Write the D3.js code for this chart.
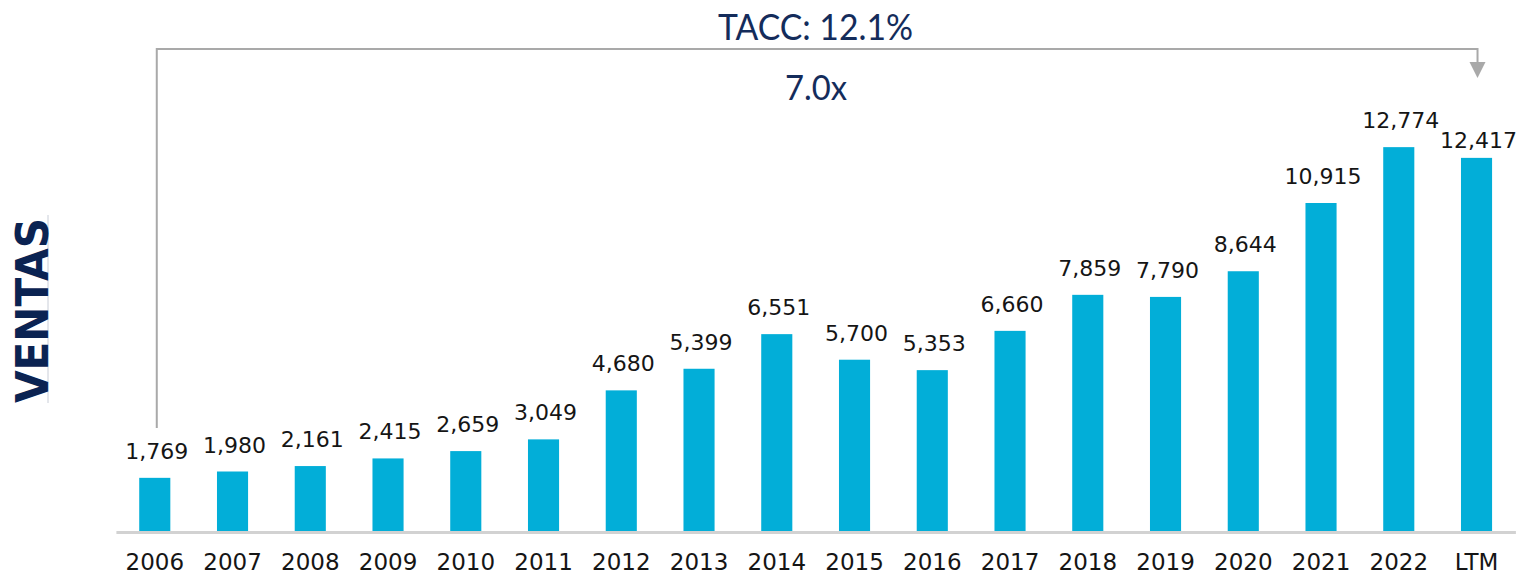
<!DOCTYPE html>
<html>
<head>
<meta charset="utf-8">
<script src="https://cdn.jsdelivr.net/npm/d3@7"></script>
<style>
  html, body { margin: 0; padding: 0; background: #ffffff; }
  svg { display: block; }
</style>
</head>
<body>
<svg id="chart" width="1522" height="575"></svg>
<script>
// ---- data ----
const categories = ["2006","2007","2008","2009","2010","2011","2012","2013","2014","2015","2016","2017","2018","2019","2020","2021","2022","LTM"];
const ventas = [1769,1980,2161,2415,2659,3049,4680,5399,6551,5700,5353,6660,7859,7790,8644,10915,12774,12417];
const growthLabel = "TACC: 12.1%";
const multipleLabel = "7.0x";
const axisTitle = "VENTAS";

// ---- layout ----
const W = 1522, H = 575;
const baseY = 531;
const svg = d3.select("#chart");

const x = d3.scaleBand()
  .domain(categories)
  .range([115.9, 1515.4])
  .paddingInner(0.6)
  .paddingOuter(0.3);

const y = d3.scaleLinear()
  .domain([0, 14000])
  .range([baseY, baseY - 14000 * 0.03005]);

const fmt = d3.format(",");
const barColor = "#02aed8";
const navy = "#142c5b";
const numFont = "'DejaVu Sans', sans-serif";

// bars
svg.append("g").selectAll("rect")
  .data(ventas)
  .join("rect")
  .attr("x", (d, i) => x(categories[i]))
  .attr("width", x.bandwidth())
  .attr("y", d => y(d))
  .attr("height", d => y(0) - y(d))
  .attr("fill", barColor);

// value labels
svg.append("g").selectAll("text")
  .data(ventas)
  .join("text")
  .attr("x", (d, i) => x(categories[i]) + x.bandwidth() / 2 + 2)
  .attr("y", (d, i) => y(d) - (i === ventas.length - 1 ? 10 : 19))
  .attr("text-anchor", "middle")
  .attr("font-family", numFont)
  .attr("font-size", 22)
  .attr("fill", "#151515")
  .text(d => fmt(d));

// x axis
const xAxis = svg.append("g")
  .attr("transform", `translate(0,${baseY + 1})`)
  .call(d3.axisBottom(x).tickSize(0).tickSizeOuter(0).tickPadding(22));
xAxis.select(".domain").attr("stroke", "#d2d2d2").attr("stroke-width", 3);
xAxis.selectAll("text")
  .attr("font-family", numFont)
  .attr("font-size", 23)
  .attr("fill", "#151515");

// growth bracket arrow
const xFirst = x(categories[0]) + x.bandwidth() / 2 + 2;
const xLast = x(categories[categories.length - 1]) + x.bandwidth() / 2 + 1;
const topY = 49;
svg.append("path")
  .attr("d", `M${xFirst},428 V${topY} H${xLast} V64`)
  .attr("fill", "none")
  .attr("stroke", "#a9a9a9")
  .attr("stroke-width", 2);
svg.append("path")
  .attr("d", `M${xLast - 8},62 L${xLast + 8},62 L${xLast},78 Z`)
  .attr("fill", "#a9a9a9");

// titles
svg.append("text")
  .attr("x", 815.5).attr("y", 40)
  .attr("text-anchor", "middle")
  .attr("font-family", "'Lato', 'Open Sans', sans-serif")
  .attr("font-size", 37)
  .attr("fill", navy)
  .attr("textLength", 195)
  .attr("lengthAdjust", "spacingAndGlyphs")
  .text(growthLabel);
svg.append("text")
  .attr("x", 816).attr("y", 100)
  .attr("text-anchor", "middle")
  .attr("font-family", "'Lato', 'Open Sans', sans-serif")
  .attr("font-size", 35)
  .attr("fill", navy)
  .attr("textLength", 62)
  .attr("lengthAdjust", "spacingAndGlyphs")
  .text(multipleLabel);

// vertical axis title
svg.append("line")
  .attr("x1", 48).attr("x2", 48).attr("y1", 215).attr("y2", 403)
  .attr("stroke", "#c9ced8").attr("stroke-width", 1);
svg.append("text")
  .attr("transform", "translate(48,310.5) rotate(-90)")
  .attr("text-anchor", "middle")
  .attr("font-family", "'DejaVu Sans', sans-serif")
  .attr("font-weight", "bold")
  .attr("font-size", 45)
  .attr("fill", "#0b2352")
  .attr("textLength", 185)
  .attr("lengthAdjust", "spacingAndGlyphs")
  .text(axisTitle);
</script>
</body>
</html>
